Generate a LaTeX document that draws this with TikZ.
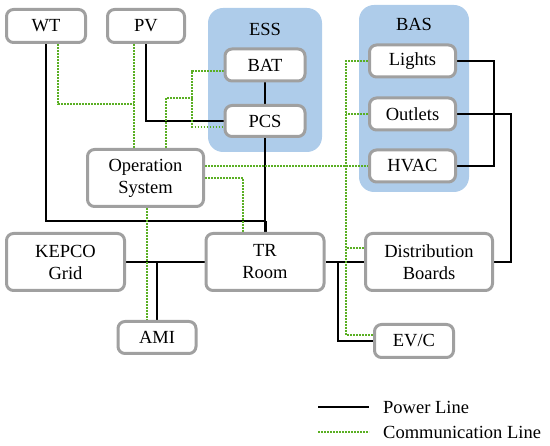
\documentclass[tikz,border=0pt]{standalone}
\usepackage{fontspec}
\setmainfont{Liberation Serif}
\definecolor{boxgray}{RGB}{160,160,160}
\definecolor{grpblue}{RGB}{174,204,234}
\definecolor{commgreen}{RGB}{90,175,35}
\pgfdeclarelayer{grp}
\pgfdeclarelayer{conn}
\pgfsetlayers{grp,conn,main}
\tikzset{
  box/.style={draw=boxgray, line width=3pt, rounded corners=7pt, fill=white,
    align=center, inner sep=0pt, font=\fontsize{18.5}{22}\selectfont},
  grpbox/.style={fill=grpblue, rounded corners=15pt, draw=none, inner sep=0pt},
  lbl/.style={font=\fontsize{18.5}{22}\selectfont, inner sep=0pt},
  power/.style={line width=2pt, black},
  comm/.style={commgreen, line width=1.6pt, dash pattern=on 1.6pt off 1.4pt},
}
\begin{document}
\begin{tikzpicture}[x=1pt,y=-1pt]
\useasboundingbox (0,0) rectangle (550,446);
% groups
\begin{pgfonlayer}{grp}
\node[grpbox, minimum width=114pt, minimum height=144pt] (ess) at (265,80) {};
\node[grpbox, minimum width=110pt, minimum height=187pt] (bas) at (414,98.5) {};
\end{pgfonlayer}
\node[lbl] (esslbl) at (265,29) {ESS};
\node[lbl] (baslbl) at (414,24) {BAS};
% boxes
\node[box, minimum width=79pt, minimum height=33pt] (wt) at (46,26) {WT};
\node[box, minimum width=77pt, minimum height=33pt] (pv) at (146,26) {PV};
\node[box, minimum width=80pt, minimum height=32pt] (bat) at (265,65) {BAT};
\node[box, minimum width=80pt, minimum height=31pt] (pcs) at (265,121) {PCS};
\node[box, minimum width=86pt, minimum height=32pt] (lights) at (412.5,61) {Lights};
\node[box, minimum width=86pt, minimum height=32pt] (outlets) at (412.5,114) {Outlets};
\node[box, minimum width=86pt, minimum height=32pt] (hvac) at (412.5,166) {HVAC};
\node[box, minimum width=116pt, minimum height=57pt] (os) at (145.5,178) {Operation\\System};
\node[box, minimum width=118pt, minimum height=57pt] (kepco) at (65.5,262) {KEPCO\\Grid};
\node[box, minimum width=118pt, minimum height=57pt] (tr) at (265,262) {TR\\Room};
\node[box, minimum width=127pt, minimum height=57pt] (db) at (429,262) {Distribution\\Boards};
\node[box, minimum width=78pt, minimum height=32pt] (ami) at (157,337.5) {AMI};
\node[box, minimum width=79pt, minimum height=33pt] (evc) at (414,341) {EV/C};
% helper coordinates
\coordinate (jw) at (265,221);
\coordinate (jt) at (338,262);
\coordinate (jd) at (511,0);
\coordinate (jl) at (494,0);
\coordinate (cw) at (134,104);
\coordinate (co) at (192,98);
\coordinate (busx) at (346,0);
\begin{pgfonlayer}{conn}
% power lines
\draw[power] (wt.south) |- (jw);
\draw[power] (pcs.south) -- (tr.north);
\draw[power, line width=3pt] (jw) -- (tr.north);
\draw[power] (bat.south) -- (pcs.north);
\draw[power] (pv.south) |- (pcs.west);
\draw[power] (kepco.east) -- (tr.west);
\draw[power] (ami.north) -- (ami.north |- kepco.east);
\draw[power] (tr.east) -- (db.west);
\draw[power] (jt) |- (evc.west);
\draw[power] (db.east) -| (jd |- outlets.east) -- (outlets.east);
\draw[power] (lights.east) -| (jl |- hvac.east) -- (hvac.east);
% communication lines
\draw[comm] ([xshift=12pt]wt.south) |- (cw);
\draw[comm] ([xshift=-12pt]pv.south) -- ([xshift=-12pt]pv.south |- os.north);
\draw[comm] ([xshift=20.5pt]os.north) |- (co);
\draw[comm] ([yshift=-6pt]bat.west) -| (co) |- ([yshift=-6pt]pcs.west);
\draw[comm] (os.east |- hvac.west) -- (hvac.west);
\draw[comm] (os.east) -| ([xshift=-22pt]tr.north);
\draw[comm] (lights.west) -| ([yshift=6pt]busx |- evc.west) -- ([yshift=6pt]evc.west);
\draw[comm] (outlets.west) -- (busx |- outlets.west);
\draw[comm] ([yshift=14pt]db.west) -- ([yshift=14pt]busx |- db.west);
\draw[comm] ([xshift=1.5pt]os.south) -- ([xshift=1.5pt]os.south |- ami.north);
\end{pgfonlayer}
% legend
\coordinate (lp) at (318,407);
\coordinate (lc) at (318,432);
\draw[power] (lp) -- ++(51,0);
\draw[comm] (lc) -- ++(51,0);
\node[lbl, anchor=west] (legp) at (383,407) {Power Line};
\node[lbl, anchor=west] (legc) at (383,432) {Communication Line};
\end{tikzpicture}
\end{document}
